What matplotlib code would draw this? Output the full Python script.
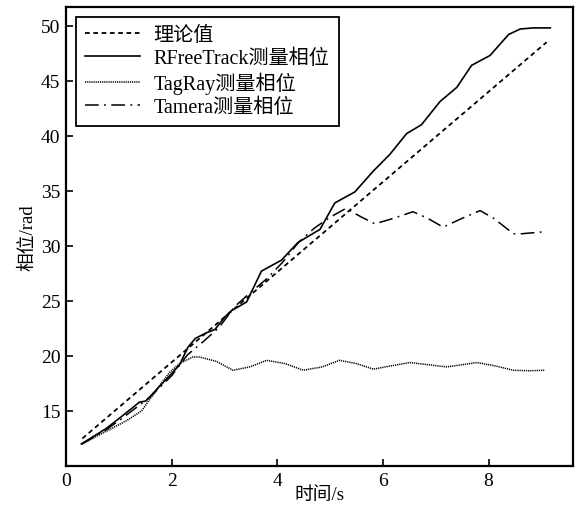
import numpy as np
import matplotlib
matplotlib.use('Agg')
import matplotlib.pyplot as plt

plt.rcParams['font.family'] = ['Liberation Serif', 'Noto Sans CJK SC']
plt.rcParams['axes.unicode_minus'] = False

# theory line
t_theory = [0.31, 9.10]
p_theory = [12.5, 48.5]

# RFreeTrack measured phase
t_rft = [0.29, 0.76, 1.08, 1.39, 1.51, 2.02, 2.15, 2.31, 2.45, 2.66, 2.82, 3.0, 3.13,
         3.42, 3.70, 4.08, 4.39, 4.81, 5.09, 5.47, 5.82, 6.13, 6.45, 6.73, 7.08,
         7.40, 7.68, 8.03, 8.38, 8.60, 8.85, 9.17]
p_rft = [12.0, 13.4, 14.6, 15.8, 15.9, 18.5, 19.2, 20.8, 21.6, 22.1, 22.4, 23.5, 24.1,
         24.9, 27.7, 28.7, 30.3, 31.5, 33.9, 34.9, 36.8, 38.3, 40.2, 41.0, 43.1,
         44.4, 46.4, 47.3, 49.2, 49.7, 49.8, 49.8]

# TagRay measured phase
t_tag = [0.3, 0.7, 1.14, 1.43, 1.77, 1.96, 2.15, 2.40, 2.53, 2.85, 3.16, 3.48, 3.80,
         4.15, 4.49, 4.85, 5.18, 5.50, 5.82, 6.16, 6.51, 6.86, 7.21, 7.50, 7.78,
         8.12, 8.47, 8.77, 9.07]
p_tag = [12.0, 13.0, 14.1, 15.0, 17.3, 18.5, 19.3, 19.9, 19.9, 19.5, 18.7, 19.0, 19.6,
         19.3, 18.7, 19.0, 19.6, 19.3, 18.8, 19.1, 19.4, 19.2, 19.0, 19.2, 19.4,
         19.1, 18.7, 18.65, 18.7]

# Tamera measured phase
t_tam = [0.3, 0.7, 1.0, 1.3, 1.6, 2.0, 2.3, 2.6, 2.9, 3.2, 3.5, 3.8, 4.1, 4.4, 4.7,
         5.0, 5.3, 5.6, 5.85, 6.2, 6.57, 6.85, 7.14, 7.5, 7.84, 8.1, 8.47, 8.63, 9.1]
p_tam = [12.0, 13.1, 14.1, 15.2, 16.3, 18.2, 20.1, 21.3, 22.6, 24.5, 25.8, 27.0, 28.5,
         30.3, 31.6, 32.6, 33.4, 32.6, 32.0, 32.5, 33.1, 32.5, 31.7, 32.5, 33.2,
         32.5, 31.1, 31.1, 31.3]

fig = plt.figure(figsize=(5.76, 5.06), dpi=100)
ax = fig.add_axes([0.1146, 0.0771, 0.8802, 0.9071])

ax.plot(t_theory, p_theory, color='black', lw=1.3, dashes=(2.6, 2.0), label='理论值')
ax.plot(t_rft, p_rft, color='black', lw=1.2, label='RFreeTrack测量相位')
ax.plot(t_tag, p_tag, color='black', lw=1.1, dashes=(0.8, 0.6), label='TagRay测量相位')
ax.plot(t_tam, p_tam, color='black', lw=1.1, dashes=(9, 3.5, 1.2, 3.5), label='Tamera测量相位')

ax.set_xlim(0, 9.6)
ax.set_ylim(10, 51.7)
ax.set_xticks([0, 2, 4, 6, 8])
ax.set_yticks([15, 20, 25, 30, 35, 40, 45, 50])
ax.tick_params(direction='in', length=5, width=1.2, labelsize=14, pad=4,
               top=False, right=False)
for s in ax.spines.values():
    s.set_linewidth(1.6)

ax.set_xlabel('时间/s', fontsize=13.5, labelpad=-2)
ax.set_ylabel('相位/rad', fontsize=13.5, labelpad=3)

leg = ax.legend(loc='upper left', fontsize=14.5, frameon=True, fancybox=False,
                edgecolor='black', framealpha=1, borderpad=0.45, labelspacing=0.18,
                handlelength=2.7, handletextpad=0.7, borderaxespad=0.5)
leg.get_frame().set_linewidth(1.3)

fig.savefig('out.png', dpi=100)
